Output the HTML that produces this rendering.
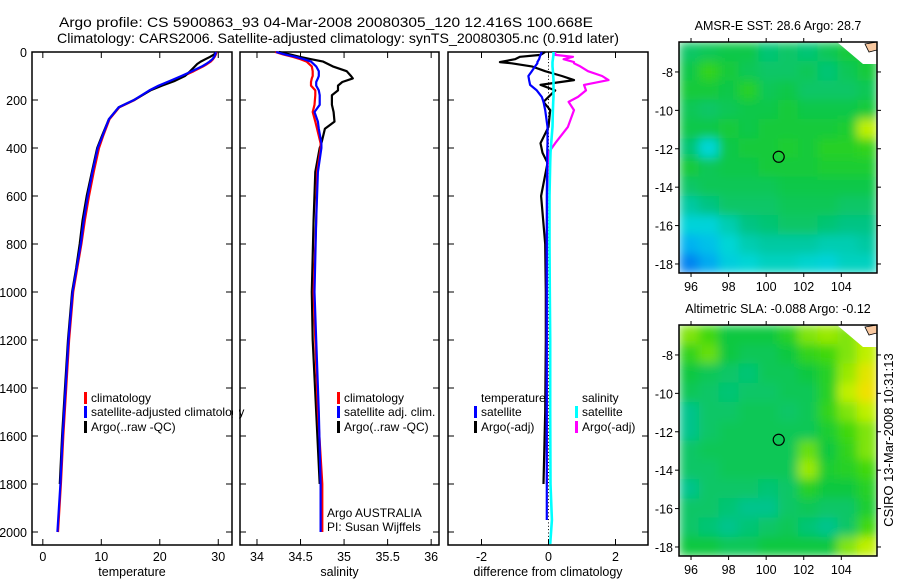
<!DOCTYPE html>
<html><head><meta charset="utf-8">
<style>
html,body{margin:0;padding:0;background:#fff;}
svg{display:block;font-family:"Liberation Sans",sans-serif;}
</style></head>
<body>
<svg id="fig" width="900" height="580" viewBox="0 0 900 580" xmlns="http://www.w3.org/2000/svg">
<defs>
<filter id="blur" x="0" y="0" width="1" height="1"><feGaussianBlur stdDeviation="5" edgeMode="duplicate"/></filter>
<clipPath id="clipSst"><rect x="679" y="42" width="198" height="231"/></clipPath>
<clipPath id="clipSla"><rect x="679" y="325" width="198" height="231"/></clipPath>
</defs>
<text x="59" y="27" font-size="14" textLength="534" lengthAdjust="spacingAndGlyphs">Argo profile: CS 5900863_93 04-Mar-2008 20080305_120 12.416S 100.668E</text>
<text x="57" y="43" font-size="14" textLength="562" lengthAdjust="spacingAndGlyphs">Climatology: CARS2006. Satellite-adjusted climatology: synTS_20080305.nc (0.91d later)</text>
<g id="g"></g>
</svg>
<script>
// ---------- profile data ----------
const depths = [0,10,20,30,40,50,60,80,100,120,140,160,200,230,280,350,400,500,600,700,800,900,1000,1200,1400,1600,1800,2000];
const tempClim = [29.7,29.6,29.4,29.1,28.7,28.1,27.4,25.8,24.0,22.0,20.0,18.3,15.7,13.1,11.4,10.3,9.6,8.7,7.9,7.2,6.6,5.9,5.2,4.5,4.0,3.5,3.1,2.6];
const tempSat  = [29.6,29.5,29.3,29.0,28.5,27.9,27.2,25.5,23.7,21.8,19.8,18.2,15.6,13.0,11.3,10.2,9.4,8.5,7.7,7.0,6.5,5.8,5.1,4.4,3.9,3.4,3.0,2.5];
const tempArgo = [29.6,29.3,28.6,27.8,27.0,26.4,26.0,25.2,24.3,22.6,20.4,18.4,15.6,13.0,11.3,10.1,9.3,8.4,7.5,6.8,6.3,5.7,5.0,4.3,3.8,3.3,2.9];
const salDepths = [0,10,20,30,40,60,80,100,110,125,140,160,180,220,250,290,320,380,400,500,700,1000,1200,1500,1800,2000];
const salClim = [34.21,34.30,34.41,34.50,34.57,34.63,34.64,34.64,34.63,34.62,34.62,34.67,34.67,34.66,34.64,34.67,34.69,34.73,34.73,34.69,34.68,34.65,34.67,34.70,34.75,34.75];
const salSat  = [34.22,34.32,34.44,34.54,34.62,34.68,34.71,34.71,34.70,34.68,34.68,34.71,34.72,34.72,34.66,34.70,34.71,34.74,34.74,34.70,34.68,34.66,34.68,34.71,34.73,34.73];
const salArgo = [34.25,34.38,34.49,34.62,34.76,34.87,35.03,35.08,35.10,34.98,34.93,34.93,34.86,34.86,34.88,34.89,34.78,34.74,34.72,34.67,34.65,34.63,34.64,34.68,34.72];
const difDepths = [0,12,20,30,42,47,60,80,100,117,137,160,187,208,242,312,380,420,462,600,800,1000,1200,1500,1800,1950,2050];
const difTempArgo = [-0.1,-0.24,-0.85,-1.0,-1.45,-1.1,-0.5,-0.1,0.4,0.76,-0.24,0.2,0.0,-0.15,0.05,0.0,-0.24,-0.18,-0.03,-0.22,-0.1,-0.08,-0.08,-0.1,-0.15];
const difTempSat  = [-0.2,-0.24,-0.26,-0.28,-0.33,-0.33,-0.4,-0.5,-0.6,-0.58,-0.55,-0.35,-0.2,-0.15,-0.1,-0.03,-0.03,-0.04,-0.04,-0.05,-0.05,-0.05,-0.05,-0.05,-0.05,-0.05];
const difSalSat   = [0.15,0.15,0.14,0.13,0.12,0.12,0.12,0.13,0.14,0.15,0.15,0.15,0.15,0.14,0.13,0.12,0.08,0.06,0.05,0.03,0.03,0.04,0.05,0.05,0.06,0.1,0.05];
const difSalArgo  = [0.2,0.2,0.73,0.45,0.76,0.76,0.95,1.18,1.6,1.79,1.06,1.12,0.88,0.6,0.76,0.58,0.2,0.0,-0.02,-0.04,-0.05,-0.05,-0.05,-0.05,-0.05];
const depthTicks = [0,200,400,600,800,1000,1200,1400,1600,1800,2000];
const tempTicks = [0,10,20,30];
const salTicks = [34,34.5,35,35.5,36];
const difTicks = [-2,0,2];
const lonTicks = [96,98,100,102,104];
const latTicks = [-8,-10,-12,-14,-16,-18];
// ---------- map data (0=blue ... 1=orange) ----------
const sstGrid = [
[.60,.62,.64,.64,.58,.60,.58,.62,.66,.66],
[.64,.72,.66,.62,.60,.60,.62,.58,.62,.66],
[.66,.66,.64,.70,.62,.64,.60,.60,.60,.62],
[.62,.60,.62,.64,.64,.66,.64,.64,.64,.66],
[.64,.64,.66,.64,.66,.66,.66,.66,.68,.85],
[.58,.45,.64,.66,.66,.68,.66,.70,.70,.72],
[.66,.62,.64,.64,.66,.66,.66,.68,.68,.68],
[.60,.62,.62,.62,.62,.64,.64,.64,.64,.64],
[.52,.56,.60,.60,.60,.62,.62,.62,.60,.60],
[.44,.44,.50,.56,.58,.60,.60,.58,.56,.56],
[.34,.38,.45,.50,.52,.52,.52,.50,.50,.52],
[.24,.32,.42,.45,.48,.48,.46,.44,.48,.48]];
const slaGrid = [
[.80,.75,.65,.65,.65,.70,.80,.82,.80,.85],
[.72,.78,.65,.62,.62,.65,.72,.75,.80,.85],
[.65,.62,.60,.58,.62,.62,.65,.70,.82,.92],
[.62,.60,.58,.60,.60,.62,.62,.70,.85,.95],
[.55,.60,.60,.62,.62,.60,.62,.72,.80,.85],
[.55,.60,.62,.62,.62,.62,.62,.68,.75,.80],
[.60,.62,.62,.62,.62,.62,.78,.65,.72,.80],
[.60,.60,.62,.62,.62,.62,.82,.68,.70,.75],
[.55,.60,.60,.60,.58,.60,.70,.65,.65,.70],
[.60,.60,.58,.55,.55,.60,.62,.60,.60,.68],
[.60,.58,.55,.58,.60,.62,.58,.55,.60,.75],
[.65,.65,.62,.62,.65,.65,.65,.65,.80,.85]];

const NS="http://www.w3.org/2000/svg";
const G=document.getElementById('g');
function mk(tag,attrs,parent){const e=document.createElementNS(NS,tag);for(const k in attrs)e.setAttribute(k,attrs[k]);(parent||G).appendChild(e);return e;}
function txt(x,y,s,size,anchor){const t=mk('text',{x:x,y:y,'font-size':size,'text-anchor':anchor||'start'});t.textContent=s;return t;}
const Y0=52,Y1=545,dScale=0.24;
function yD(d){return Y0+d*dScale;}

function panel(name,x0,x1,vmin,vmax,xt,xtitle,leftLabels){
  const sx=v=>x0+(v-vmin)/(vmax-vmin)*(x1-x0);
  const r=mk('rect',{x:x0,y:Y0,width:x1-x0,height:Y1-Y0,fill:'none',stroke:'#000','stroke-width':1.5});
  
  
  depthTicks.forEach(d=>{
    const y=yD(d);
    mk('line',{x1:x0,x2:x0+6,y1:y,y2:y,stroke:'#000'});
    mk('line',{x1:x1,x2:x1-6,y1:y,y2:y,stroke:'#000'});
    if(leftLabels){const t=txt(x0-5,y+5,String(d),12.5,'end');
      
      }
  });
  xt.forEach(v=>{
    const x=sx(v);
    mk('line',{x1:x,x2:x,y1:Y1,y2:Y1-6,stroke:'#000'});
    mk('line',{x1:x,x2:x,y1:Y0,y2:Y0+6,stroke:'#000'});
    const t=txt(x,561,String(v),12.5,'middle');
    
    
  });
  const tt=txt((x0+x1)/2,576,xtitle,12.5,'middle');
  
  
  return sx;
}
function line(sx,ds,vals,color,name,w){
  const n=Math.min(ds.length,vals.length);
  let p='';for(let i=0;i<n;i++)p+=(i?'L':'M')+sx(vals[i]).toFixed(1)+','+yD(ds[i]).toFixed(1);
  const e=mk('path',{d:p,fill:'none',stroke:color,'stroke-width':w||2.2,'stroke-linejoin':'round'});
  
  
}
function legend(x,y,color,label,name,clipRight){
  mk('rect',{x:x,y:y-10,width:3,height:12,fill:color});
  const t=txt(x+7,y,label,12);
  
  
}
// Panel 1
const sxT=panel('temperature-panel',32,232,-1.85,32.35,tempTicks,'temperature',true);
line(sxT,depths,tempClim,'#f00','temp-climatology-line');
line(sxT,depths,tempArgo,'#000','temp-argo-line');
line(sxT,depths,tempSat,'#00f','temp-satellite-line');
legend(84,402,'#f00','climatology','legend-climatology');
legend(84,416,'#00f','satellite-adjusted climatology','legend-satellite-adjusted');
legend(84,431,'#000','Argo(..raw -QC)','legend-argo');
// Panel 2
const sxS=panel('salinity-panel',240,439,33.805,36.09,salTicks,'salinity',false);
mk('rect',{x:233,y:405,width:6,height:14,fill:'#fff'});
line(sxS,salDepths,salArgo,'#000','sal-argo-line');
line(sxS,salDepths,salClim,'#f00','sal-climatology-line');
line(sxS,salDepths,salSat,'#00f','sal-satellite-line');
legend(337,402,'#f00','climatology','legend-sal-climatology');
legend(337,416,'#00f','satellite adj. clim.','legend-sal-satellite');
legend(337,431,'#000','Argo(..raw -QC)','legend-sal-argo');
let a1=txt(327,517,'Argo AUSTRALIA',12);
let a2=txt(327,531,'PI: Susan Wijffels',12);
// Panel 3
const sxD=panel('difference-panel',448,648,-3.0,2.97,difTicks,'difference from climatology',false);
for(let d=0;d<2050;d+=14){mk('rect',{x:sxD(0)-0.5,y:yD(d),width:1,height:1,fill:'#000'});}
line(sxD,difDepths,difTempArgo,'#000','diff-temp-argo-line');
line(sxD,difDepths,difSalArgo,'#f0f','diff-sal-argo-line');
line(sxD,difDepths,difTempSat,'#00f','diff-temp-satellite-line');
line(sxD,difDepths,difSalSat,'#0ff','diff-sal-satellite-line',2.6);
let lt=txt(481,402,'temperature',12);
let ls=txt(582,402,'salinity',12);
legend(474,416,'#00f','satellite','legend-diff-temp-satellite');
legend(474,431,'#000','Argo(-adj)','legend-diff-temp-argo');
legend(575,416,'#0ff','satellite','legend-diff-sal-satellite');
legend(575,431,'#f0f','Argo(-adj)','legend-diff-sal-argo');

// ---------- maps ----------
const stops=[[0,[0,60,230]],[0.2,[0,112,240]],[0.35,[0,184,240]],[0.45,[0,214,214]],[0.55,[0,196,140]],[0.65,[16,200,64]],[0.75,[64,216,16]],[0.85,[192,240,0]],[0.95,[240,224,0]],[1,[255,160,0]]];
function cmap(v){for(let i=1;i<stops.length;i++){if(v<=stops[i][0]){const a=stops[i-1],b=stops[i],t=(v-a[0])/(b[0]-a[0]);return 'rgb('+a[1].map((c,k)=>Math.round(c+(b[1][k]-c)*t)).join(',')+')';}}return 'rgb(255,160,0)';}
function map(name,top,title,grid,clipId){
  const x0=679,x1=877,y1=top+231;
  const lonMin=95.36,lonMax=105.9,latTop=-6.44,latBot=-18.47;
  const sx=l=>x0+(l-lonMin)/(lonMax-lonMin)*(x1-x0);
  const sy=l=>top+(latTop-l)/(latTop-latBot)*(y1-top);
  const rows=grid.length,cols=grid[0].length,cw=(x1-x0)/cols,ch=(y1-top)/rows;
  const clipG=mk('g',{'clip-path':'url(#'+clipId+')'});
  const cellG=mk('g',{filter:'url(#blur)'},clipG);
  grid.forEach((row,r)=>row.forEach((v,c)=>{
    const e=mk('rect',{x:(x0+c*cw).toFixed(1),y:(top+r*ch).toFixed(1),width:(cw+0.6).toFixed(1),height:(ch+0.6).toFixed(1),fill:cmap(v)},cellG);
    
    
  }));
  mk('path',{d:`M${x1-40},${top} L${x1},${top} L${x1},${top+22} L${x1-14},${top+22} Z`,fill:'#fff'});
  mk('path',{d:`M${x1-12},${top+2} L${x1},${top} L${x1},${top+8} L${x1-8},${top+10} Z`,fill:'#f8c8a0',stroke:'#000','stroke-width':0.8});
  mk('rect',{x:x0,y:top,width:x1-x0,height:y1-top,fill:'none',stroke:'#000','stroke-width':1.5});
  const c=mk('circle',{cx:sx(100.668),cy:sy(-12.416),r:5.5,fill:'none',stroke:'#000','stroke-width':1.2});
  
  
  lonTicks.forEach(l=>{const x=sx(l);mk('line',{x1:x,x2:x,y1:y1,y2:y1+4,stroke:'#000'});mk('line',{x1:x,x2:x,y1:top,y2:top-4,stroke:'#000'});
    const t=txt(x,y1+18,String(l),12.5,'middle');});
  latTicks.forEach(l=>{const y=sy(l);mk('line',{x1:x0,x2:x0-4,y1:y,y2:y,stroke:'#000'});mk('line',{x1:x1,x2:x1+4,y1:y,y2:y,stroke:'#000'});
    const t=txt(673,y+5,String(l),12.5,'end');});
  const tt=txt(778,top-12,title,12.5,'middle');
  
  
}
map('sst-map',42,'AMSR-E SST: 28.6 Argo: 28.7',sstGrid,'clipSst');
map('sla-map',325,'Altimetric SLA: -0.088 Argo: -0.12',slaGrid,'clipSla');
const cs=txt(0,0,'CSIRO 13-Mar-2008 10:31:13',13,'middle');
cs.setAttribute('transform','translate(893,440) rotate(-90)');


</script>
</body></html>
